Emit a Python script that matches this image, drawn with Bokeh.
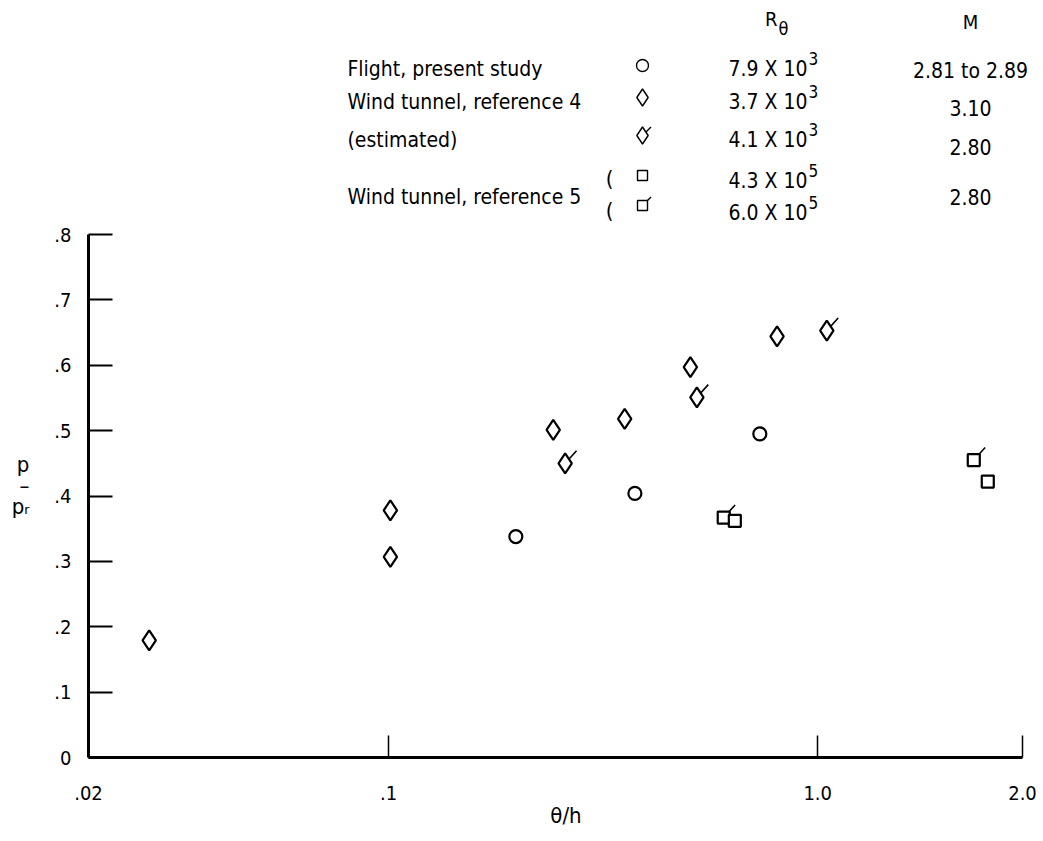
import math

from bokeh.embed import file_html
from bokeh.models import FixedTicker, Label, Range1d
from bokeh.plotting import figure
from bokeh.resources import INLINE

# ---------------------------------------------------------------- data
# Flight, present study (R_theta = 7.9 x 10^3, M = 2.81 to 2.89)
flight_x = [0.198, 0.375, 0.733]
flight_y = [0.338, 0.404, 0.495]

# Wind tunnel, reference 4 (R_theta = 3.7 x 10^3, M = 3.10)
ref4_x = [0.0277, 0.101, 0.101, 0.242, 0.355, 0.505, 0.804]
ref4_y = [0.179, 0.378, 0.307, 0.501, 0.518, 0.597, 0.644]

# Wind tunnel, reference 4, estimated (R_theta = 4.1 x 10^3, M = 2.80)
ref4e_x = [0.258, 0.523, 1.05]
ref4e_y = [0.450, 0.551, 0.653]

# Wind tunnel, reference 5 (M = 2.80)
ref5a_x = [0.641, 2.49]      # R_theta = 4.3 x 10^5
ref5a_y = [0.362, 0.422]
ref5b_x = [0.604, 2.31]      # R_theta = 6.0 x 10^5
ref5b_y = [0.367, 0.455]

# axis ticks
y_ticks = [0.0, 0.1, 0.2, 0.3, 0.4, 0.5, 0.6, 0.7, 0.8]
y_tick_labels = ["0", ".1", ".2", ".3", ".4", ".5", ".6", ".7", ".8"]
x_ticks = [0.02, 0.1, 1.0, 3.0]
x_tick_labels = [".02", ".1", "1.0", "2.0"]
x_title = "\u03b8/h"
y_title_lines = ["p", "\u2013", "p\u1d63"]

# key table
key_names = ["Flight, present study", "Wind tunnel, reference 4", "(estimated)"]
key_ref5 = "Wind tunnel, reference 5"
key_rtheta = [("7.9 X 10", "3"), ("3.7 X 10", "3"), ("4.1 X 10", "3"),
              ("4.3 X 10", "5"), ("6.0 X 10", "5")]
key_mach = ["2.81 to 2.89", "3.10", "2.80", "2.80"]

# ---------------------------------------------------------------- layout
W, H = 1043, 841
FL, FT, FB = 88, 0, 757                   # frame edges on the canvas
AX_R = 1022                               # right end of the x axis line
X0, X_AX_END = 0.02, 3.0
Y_AX_TOP = 0.8
Y_AX_TOP_PX = 234
ppy = (FB - Y_AX_TOP_PX) / Y_AX_TOP       # pixels per unit of p/pr
ppd = (AX_R - FL) / math.log10(X_AX_END / X0)   # pixels per decade
Y1 = (FB - FT) / ppy
X1 = 10 ** (math.log10(X0) + (W - FL) / ppd)    # frame runs to the canvas edge

FONT = "DejaVu Sans Condensed"
FS_TICK = "20px"
FS_KEY = "21px"
# the y title is centred on the frame; blank lines above it push the
# stacked fraction down to the middle of the drawn axis
Y_TITLE_PAD = 10


def cx(px):
    """canvas x -> data x"""
    return 10 ** (math.log10(X0) + (px - FL) / ppd)


def cy(py):
    """canvas y -> data y"""
    return (FB - py) / ppy


p = figure(width=W, height=H, x_axis_type="log",
           x_range=Range1d(X0, X1), y_range=Range1d(0, Y1),
           output_backend="svg", toolbar_location=None,
           min_border_left=FL, min_border_right=0,
           min_border_top=FT, min_border_bottom=H - FB)
p.outline_line_color = None
p.grid.visible = False
p.background_fill_color = "white"
p.border_fill_color = "white"

# axes
ya = p.yaxis[0]
ya.ticker = FixedTicker(ticks=y_ticks)
ya.major_label_overrides = dict(zip(y_ticks, y_tick_labels))
ya.bounds = (0, Y_AX_TOP)
ya.axis_line_width = 3
ya.major_tick_in = 24
ya.major_tick_out = 0
ya.major_tick_line_width = 2
ya.minor_tick_line_color = None
ya.major_label_standoff = 17
ya.major_label_text_font = FONT
ya.major_label_text_font_size = FS_TICK
ya.major_label_text_color = "black"
ya.axis_label = "\n".join([" "] * Y_TITLE_PAD + y_title_lines)
ya.axis_label_orientation = "horizontal"
ya.axis_label_standoff = 22
ya.axis_label_text_font = FONT
ya.axis_label_text_font_size = "22px"
ya.axis_label_text_font_style = "normal"
ya.axis_label_text_line_height = 0.85
ya.axis_label_text_align = "center"
ya.axis_label_text_color = "black"

xa = p.xaxis[0]
xa.ticker = FixedTicker(ticks=x_ticks)
xa.major_label_overrides = dict(zip(x_ticks, x_tick_labels))
xa.bounds = (X0, X_AX_END)
xa.axis_line_width = 3
xa.major_tick_in = 22
xa.major_tick_out = 0
xa.major_tick_line_width = 1.5
xa.minor_tick_line_color = None
xa.major_label_standoff = 28
xa.major_label_text_font = FONT
xa.major_label_text_font_size = FS_TICK
xa.major_label_text_color = "black"
xa.axis_label = x_title
xa.axis_label_standoff = 0
xa.axis_label_text_font = FONT
xa.axis_label_text_font_size = "22px"
xa.axis_label_text_font_style = "normal"
xa.axis_label_text_color = "black"


def text(px, py, s, align="left", size=FS_KEY, baseline="middle"):
    p.add_layout(Label(x=cx(px), y=cy(py), text=s, text_align=align,
                       text_baseline=baseline, text_font=FONT,
                       text_font_size=size, text_color="black"))


# flags (drawn under the white-filled markers)
FLAG = dict(length=17, length_units="screen", angle=math.radians(48),
            line_color="black", line_width=1.6)
p.ray(ref4e_x, ref4e_y, **FLAG)
p.ray(ref5b_x, ref5b_y, **FLAG)

MK = dict(fill_color="white", line_color="black", line_width=2.2)
p.scatter(flight_x, flight_y, marker="circle", size=13, **MK)
p.scatter(ref4_x, ref4_y, marker="diamond", size=20, **MK)
p.scatter(ref4e_x, ref4e_y, marker="diamond", size=20, **MK)
p.scatter(ref5b_x, ref5b_y, marker="square", size=12, **MK)
p.scatter(ref5a_x, ref5a_y, marker="square", size=12, **MK)

# ---------------------------------------------------------------- key
row_y = [68, 101, 139, 180, 212]
mach_y = [70, 107, 146, 196]
name_x, sym_x, num_r, mach_x = 347, 642, 807, 970

text(777, 18, "R", align="right", size="20px")
text(778, 28, "\u03b8", size="18px")
text(mach_x, 21, "M", align="center", size="20px")

for s, yy in zip(key_names, row_y[:3]):
    text(name_x, yy, s)
text(name_x, (row_y[3] + row_y[4]) / 2, key_ref5)

for (base, ex), yy in zip(key_rtheta, row_y):
    text(num_r, yy, base, align="right")
    text(num_r + 1, yy - 10, ex, size="17px")

for s, yy in zip(key_mach, mach_y):
    text(mach_x, yy, s, align="center")

text(609, row_y[3] - 2, "(", align="center", size="22px")
text(609, row_y[4] - 2, "(", align="center", size="22px")

kx = [cx(sym_x)] * 5
ky = [cy(v) for v in [65, 97, 135, 175, 205]]
KFLAG = dict(length=12, length_units="screen", angle=math.radians(45),
             line_color="black", line_width=1.4)
p.ray(kx[2:3], ky[2:3], **KFLAG)
p.ray(kx[4:5], ky[4:5], **KFLAG)
p.scatter(kx[0:1], ky[0:1], marker="circle", size=12, fill_color="white",
          line_color="black", line_width=1.4)
p.scatter(kx[1:3], ky[1:3], marker="diamond", size=17, fill_color="white",
          line_color="black", line_width=1.4)
p.scatter(kx[3:5], ky[3:5], marker="square", size=10, fill_color="white",
          line_color="black", line_width=1.4)

open("out.html", "w").write(file_html(p, INLINE))
